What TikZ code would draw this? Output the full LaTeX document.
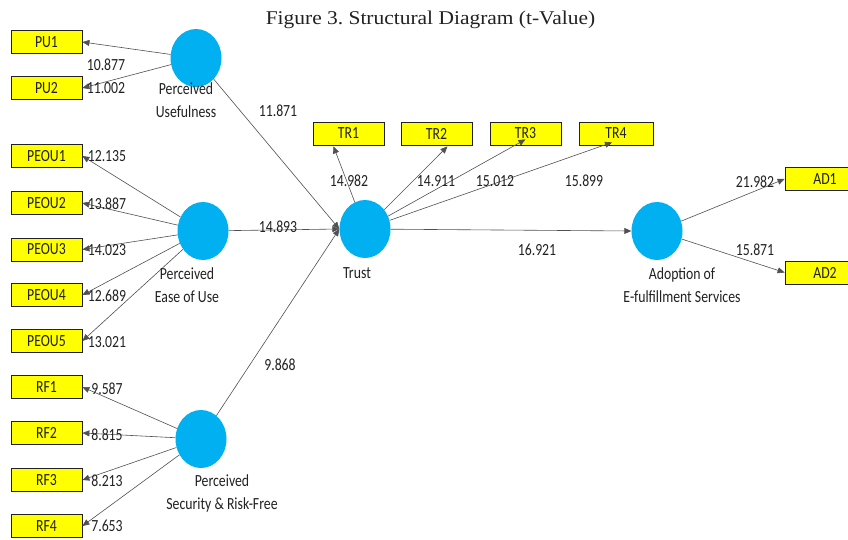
\documentclass[tikz,border=0pt]{standalone}
\usepackage{fontspec}
\setmainfont{Carlito}
\newfontfamily\labfont[FakeStretch=0.81]{Carlito}
\newfontfamily\titlefont[FakeStretch=1.1]{Liberation Serif}
\usetikzlibrary{arrows.meta,calc,shapes.geometric}
\definecolor{lvcol}{HTML}{00B0F0}
\definecolor{indcol}{HTML}{FFFF00}
\definecolor{edgecol}{HTML}{505050}
\definecolor{txt}{HTML}{222222}
\frenchspacing
\begin{document}
\begin{tikzpicture}[x=1pt,y=-1pt,
  indbox/.style={draw=txt,line width=0.8pt,fill=indcol,minimum width=71pt,minimum height=23pt,inner sep=0pt,font=\labfont\fontsize{17}{17}\selectfont,text=txt},
  lvnode/.style={ellipse,fill=lvcol,minimum width=51pt,minimum height=58pt,inner sep=0pt},
  valtxt/.style={font=\labfont\fontsize{17}{17}\selectfont,text=txt,inner sep=0pt},
  captxt/.style={font=\labfont\fontsize{17}{23}\selectfont,text=txt,inner sep=0pt,align=center},
  arr/.style={draw=edgecol,line width=0.6pt,-{Triangle[length=7pt,width=6pt]}}]
\useasboundingbox (0,0) rectangle (848,539);
\fill[white] (0,0) rectangle (848,539);
\node[font=\titlefont\fontsize{19.5}{19.5}\selectfont,text=txt,anchor=base,inner sep=0pt] (title) at (430.5,24) {Figure 3. Structural Diagram (t-Value)};
% latent variables
\node[lvnode] (pu) at (196,58) {};
\node[lvnode] (peou) at (203,231) {};
\node[lvnode] (rf) at (201,439) {};
\node[lvnode] (trust) at (365,229) {};
\node[lvnode] (ad) at (657,231) {};
% indicators
\node[indbox] (pu1) at (46.5,42) {PU1};
\node[indbox] (pu2) at (46.5,88) {PU2};
\node[indbox] (peou1) at (46.5,156) {PEOU1};
\node[indbox] (peou2) at (46.5,203) {PEOU2};
\node[indbox] (peou3) at (46.5,249.5) {PEOU3};
\node[indbox] (peou4) at (46.5,295) {PEOU4};
\node[indbox] (peou5) at (46.5,341) {PEOU5};
\node[indbox] (rf1) at (46.5,387) {RF1};
\node[indbox] (rf2) at (46.5,433) {RF2};
\node[indbox] (rf3) at (46.5,480) {RF3};
\node[indbox] (rf4) at (46.5,526) {RF4};
\node[indbox] (tr1) at (348.5,133.5) {TR1};
\node[indbox] (tr2) at (436.5,133.5) {TR2};
\node[indbox] (tr3) at (525.5,133.5) {TR3};
\node[indbox,minimum width=74pt] (tr4) at (616,133.5) {TR4};
\node[indbox,minimum width=80pt] (ad1) at (825,179) {AD1};
\node[indbox,minimum width=80pt] (ad2) at (825,272.5) {AD2};
% arrow targets on the TR boxes
\coordinate (t1) at ($(tr1.south)+(-15,1)$);
\coordinate (t2) at ($(tr2.south)+(11,1)$);
\coordinate (t3) at ($(tr3.south)+(0,-6)$);
\coordinate (t4) at ($(tr4.south)+(-4,-3)$);
% connectors
\draw[arr] (pu) -- (pu1.east);
\draw[arr] (pu) -- (pu2.east);
\draw[arr] (peou) -- (peou1.east);
\draw[arr] (peou) -- (peou2.east);
\draw[arr] (peou) -- (peou3.east);
\draw[arr] (peou) -- (peou4.east);
\draw[arr] (peou) -- (peou5.east);
\draw[arr] (rf) -- (rf1.east);
\draw[arr] (rf) -- (rf2.east);
\draw[arr] (rf) -- (rf3.east);
\draw[arr] (rf) -- (rf4.east);
\draw[arr] (pu) -- (trust.west);
\draw[arr] (peou) -- (trust.west);
\draw[arr] (rf) -- (trust.west);
\draw[arr] (trust) -- (t1);
\draw[arr] (trust) -- (t2);
\draw[arr] (trust) -- (t3);
\draw[arr] (trust) -- (t4);
\draw[arr] (trust) -- (ad.west);
\draw[arr] (ad) -- (ad1.west);
\draw[arr] (ad) -- (ad2.west);
% values
\node[valtxt] (v1) at (106,65) {10.877};
\node[valtxt] (v2) at (106,88) {11.002};
\node[valtxt] (v3) at (278,111) {11.871};
\node[valtxt] (v4) at (107,156.5) {12.135};
\node[valtxt] (v5) at (107,204) {13.887};
\node[valtxt] (v6) at (107,250) {14.023};
\node[valtxt] (v7) at (107,296) {12.689};
\node[valtxt] (v8) at (107,342) {13.021};
\node[valtxt] (v9) at (278,227) {14.893};
\node[valtxt] (v10) at (280,365) {9.868};
\node[valtxt] (v11) at (107,389) {9.587};
\node[valtxt] (v12) at (107,435) {8.815};
\node[valtxt] (v13) at (107,481) {8.213};
\node[valtxt] (v14) at (107,526) {7.653};
\node[valtxt] (v15) at (349,181) {14.982};
\node[valtxt] (v16) at (436,181) {14.911};
\node[valtxt] (v17) at (495,181) {15.012};
\node[valtxt] (v18) at (584,181) {15.899};
\node[valtxt] (v19) at (537,250) {16.921};
\node[valtxt] (v20) at (755,182) {21.982};
\node[valtxt] (v21) at (755,250) {15.871};
% captions
\node[captxt] (c1) at (186,100) {Perceived\\Usefulness};
\node[captxt] (c2) at (187,285) {Perceived\\Ease of Use};
\node[captxt] (c3) at (222,493) {Perceived\\Security \& Risk-Free};
\node[captxt] (c4) at (357,273) {Trust};
\node[captxt] (c5) at (682,285) {Adoption of\\E-fulfillment Services};
\end{tikzpicture}
\end{document}
